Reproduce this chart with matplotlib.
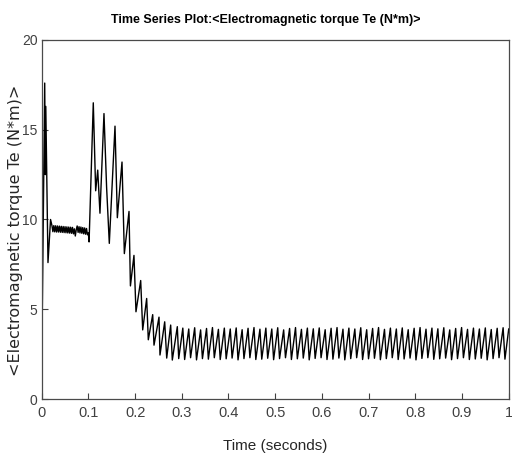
import matplotlib
matplotlib.use("Agg")
import matplotlib.pyplot as plt

# startup transient (seconds, N*m)
startup_t = [0.0, 0.0005, 0.0065, 0.0078, 0.0088, 0.0135, 0.019]
startup_v = [2.8, 2.8, 17.6, 12.5, 16.3, 7.6, 10.0]

# ripple band before the load step
ripple_t = [0.022, 0.024, 0.026, 0.028, 0.030, 0.032, 0.034, 0.036, 0.038, 0.040,
            0.042, 0.044, 0.046, 0.048, 0.050, 0.052, 0.054, 0.056, 0.058, 0.060,
            0.062, 0.064, 0.066, 0.068, 0.070, 0.072, 0.074, 0.076, 0.078, 0.080,
            0.082, 0.084, 0.086, 0.088, 0.090, 0.092, 0.094, 0.096, 0.098, 0.100]
ripple_v = [9.66, 9.32, 9.66, 9.31, 9.65, 9.30, 9.64, 9.30, 9.63, 9.29,
            9.62, 9.28, 9.61, 9.27, 9.60, 9.26, 9.59, 9.25, 9.58, 9.24,
            9.57, 9.23, 9.56, 9.20, 9.48, 9.08, 9.43, 9.64, 9.28, 9.60,
            9.25, 9.58, 9.23, 9.55, 9.20, 9.53, 9.18, 9.50, 9.15, 9.25]

# oscillation after the step at 0.1 s
burst_t = [0.1015, 0.1105, 0.1156, 0.120, 0.1248, 0.1334, 0.139, 0.1448, 0.157,
           0.162, 0.172, 0.177, 0.187, 0.190, 0.1976, 0.2019, 0.212, 0.2163,
           0.2248, 0.2283, 0.2377, 0.2405, 0.2512, 0.2533, 0.2634, 0.2677,
           0.2762, 0.2797, 0.2904]
burst_v = [8.75, 16.5, 11.6, 12.75, 10.35, 15.9, 11.8, 8.67, 15.2,
           10.1, 13.2, 8.1, 10.45, 6.3, 8.0, 4.86, 6.6, 3.85,
           5.6, 3.3, 4.7, 3.0, 4.56, 2.45, 4.3, 2.28,
           4.12, 2.17, 4.03]

# steady-state ripple: troughs and peaks
trough_t = [0.2934, 0.3061, 0.3188, 0.3315, 0.3442, 0.3569, 0.3696, 0.3823, 0.3950, 0.4077,
            0.4204, 0.4331, 0.4458, 0.4585, 0.4712, 0.4839, 0.4966, 0.5093, 0.5220, 0.5347,
            0.5474, 0.5601, 0.5728, 0.5855, 0.5982, 0.6109, 0.6236, 0.6363, 0.6490, 0.6617,
            0.6744, 0.6871, 0.6998, 0.7125, 0.7252, 0.7379, 0.7506, 0.7633, 0.7760, 0.7887,
            0.8014, 0.8141, 0.8268, 0.8395, 0.8522, 0.8649, 0.8776, 0.8903, 0.9030, 0.9157,
            0.9284, 0.9411, 0.9538, 0.9665, 0.9792, 0.9919]
peak_t = [0.3022, 0.3149, 0.3276, 0.3403, 0.3530, 0.3657, 0.3784, 0.3911, 0.4038, 0.4165,
          0.4292, 0.4419, 0.4546, 0.4673, 0.4800, 0.4927, 0.5054, 0.5181, 0.5308, 0.5435,
          0.5562, 0.5689, 0.5816, 0.5943, 0.6070, 0.6197, 0.6324, 0.6451, 0.6578, 0.6705,
          0.6832, 0.6959, 0.7086, 0.7213, 0.7340, 0.7467, 0.7594, 0.7721, 0.7848, 0.7975,
          0.8102, 0.8229, 0.8356, 0.8483, 0.8610, 0.8737, 0.8864, 0.8991, 0.9118, 0.9245,
          0.9372, 0.9499, 0.9626, 0.9753, 0.9880, 1.0]
trough_v = [2.25, 2.20, 2.30, 2.18, 2.25, 2.22, 2.30, 2.20, 2.24, 2.28,
            2.18, 2.25, 2.30, 2.20, 2.22, 2.27, 2.19, 2.25, 2.30, 2.20,
            2.24, 2.28, 2.18, 2.26, 2.30, 2.20, 2.22, 2.28, 2.18, 2.25,
            2.30, 2.20, 2.24, 2.27, 2.19, 2.25, 2.30, 2.20, 2.23, 2.28,
            2.18, 2.26, 2.30, 2.21, 2.24, 2.28, 2.19, 2.25, 2.30, 2.20,
            2.23, 2.27, 2.18, 2.25, 2.30, 2.22]
peak_v = [3.95, 3.90, 3.97, 3.85, 3.93, 3.98, 3.88, 3.95, 3.90, 3.96,
          3.86, 3.94, 3.98, 3.89, 3.95, 3.90, 3.97, 3.85, 3.93, 3.98,
          3.88, 3.95, 3.91, 3.96, 3.86, 3.94, 3.98, 3.89, 3.95, 3.90,
          3.97, 3.86, 3.93, 3.98, 3.88, 3.95, 3.90, 3.96, 3.86, 3.94,
          3.98, 3.89, 3.95, 3.91, 3.97, 3.85, 3.93, 3.98, 3.88, 3.95,
          3.90, 3.96, 3.87, 3.94, 3.97, 3.90]

t = startup_t + ripple_t + burst_t
v = startup_v + ripple_v + burst_v
for k in range(len(trough_t)):
    t += [trough_t[k], peak_t[k]]
    v += [trough_v[k], peak_v[k]]

narrow = ['Liberation Sans Narrow', 'Liberation Sans', 'DejaVu Sans']

fig = plt.figure(figsize=(5.12, 4.59), dpi=100)
ax = fig.add_axes([0.0814, 0.1307, 0.9122, 0.7822])
ax.plot(t, v, color='black', linewidth=1.0)

ax.set_xlim(0, 1)
ax.set_ylim(0, 20)
ax.set_xticks([0, 0.1, 0.2, 0.3, 0.4, 0.5, 0.6, 0.7, 0.8, 0.9, 1])
ax.set_xticklabels(['0', '0.1', '0.2', '0.3', '0.4', '0.5', '0.6', '0.7', '0.8', '0.9', '1'])
ax.set_yticks([0, 5, 10, 15, 20])
ax.tick_params(direction='in', length=4, width=0.8, colors='#404040',
               labelsize=10.5, pad=5)
ax.tick_params(axis='y', labelsize=10, pad=3)
for lab in ax.get_xticklabels() + ax.get_yticklabels():
    lab.set_family(narrow)
for s in ax.spines.values():
    s.set_color('#4a4a4a')
    s.set_linewidth(0.9)

ax.set_xlabel('Time (seconds)', fontsize=11, family=narrow, color='#262626', labelpad=14)
ax.set_ylabel('<Electromagnetic torque Te (N*m)>', fontsize=11.5, color='#262626')
ax.yaxis.set_label_coords(-0.041, 0.47)
ax.set_title('Time Series Plot:<Electromagnetic torque Te (N*m)>', fontsize=9,
             family=narrow, fontweight='bold', pad=12, x=0.48)

fig.savefig('out.png', dpi=100)
